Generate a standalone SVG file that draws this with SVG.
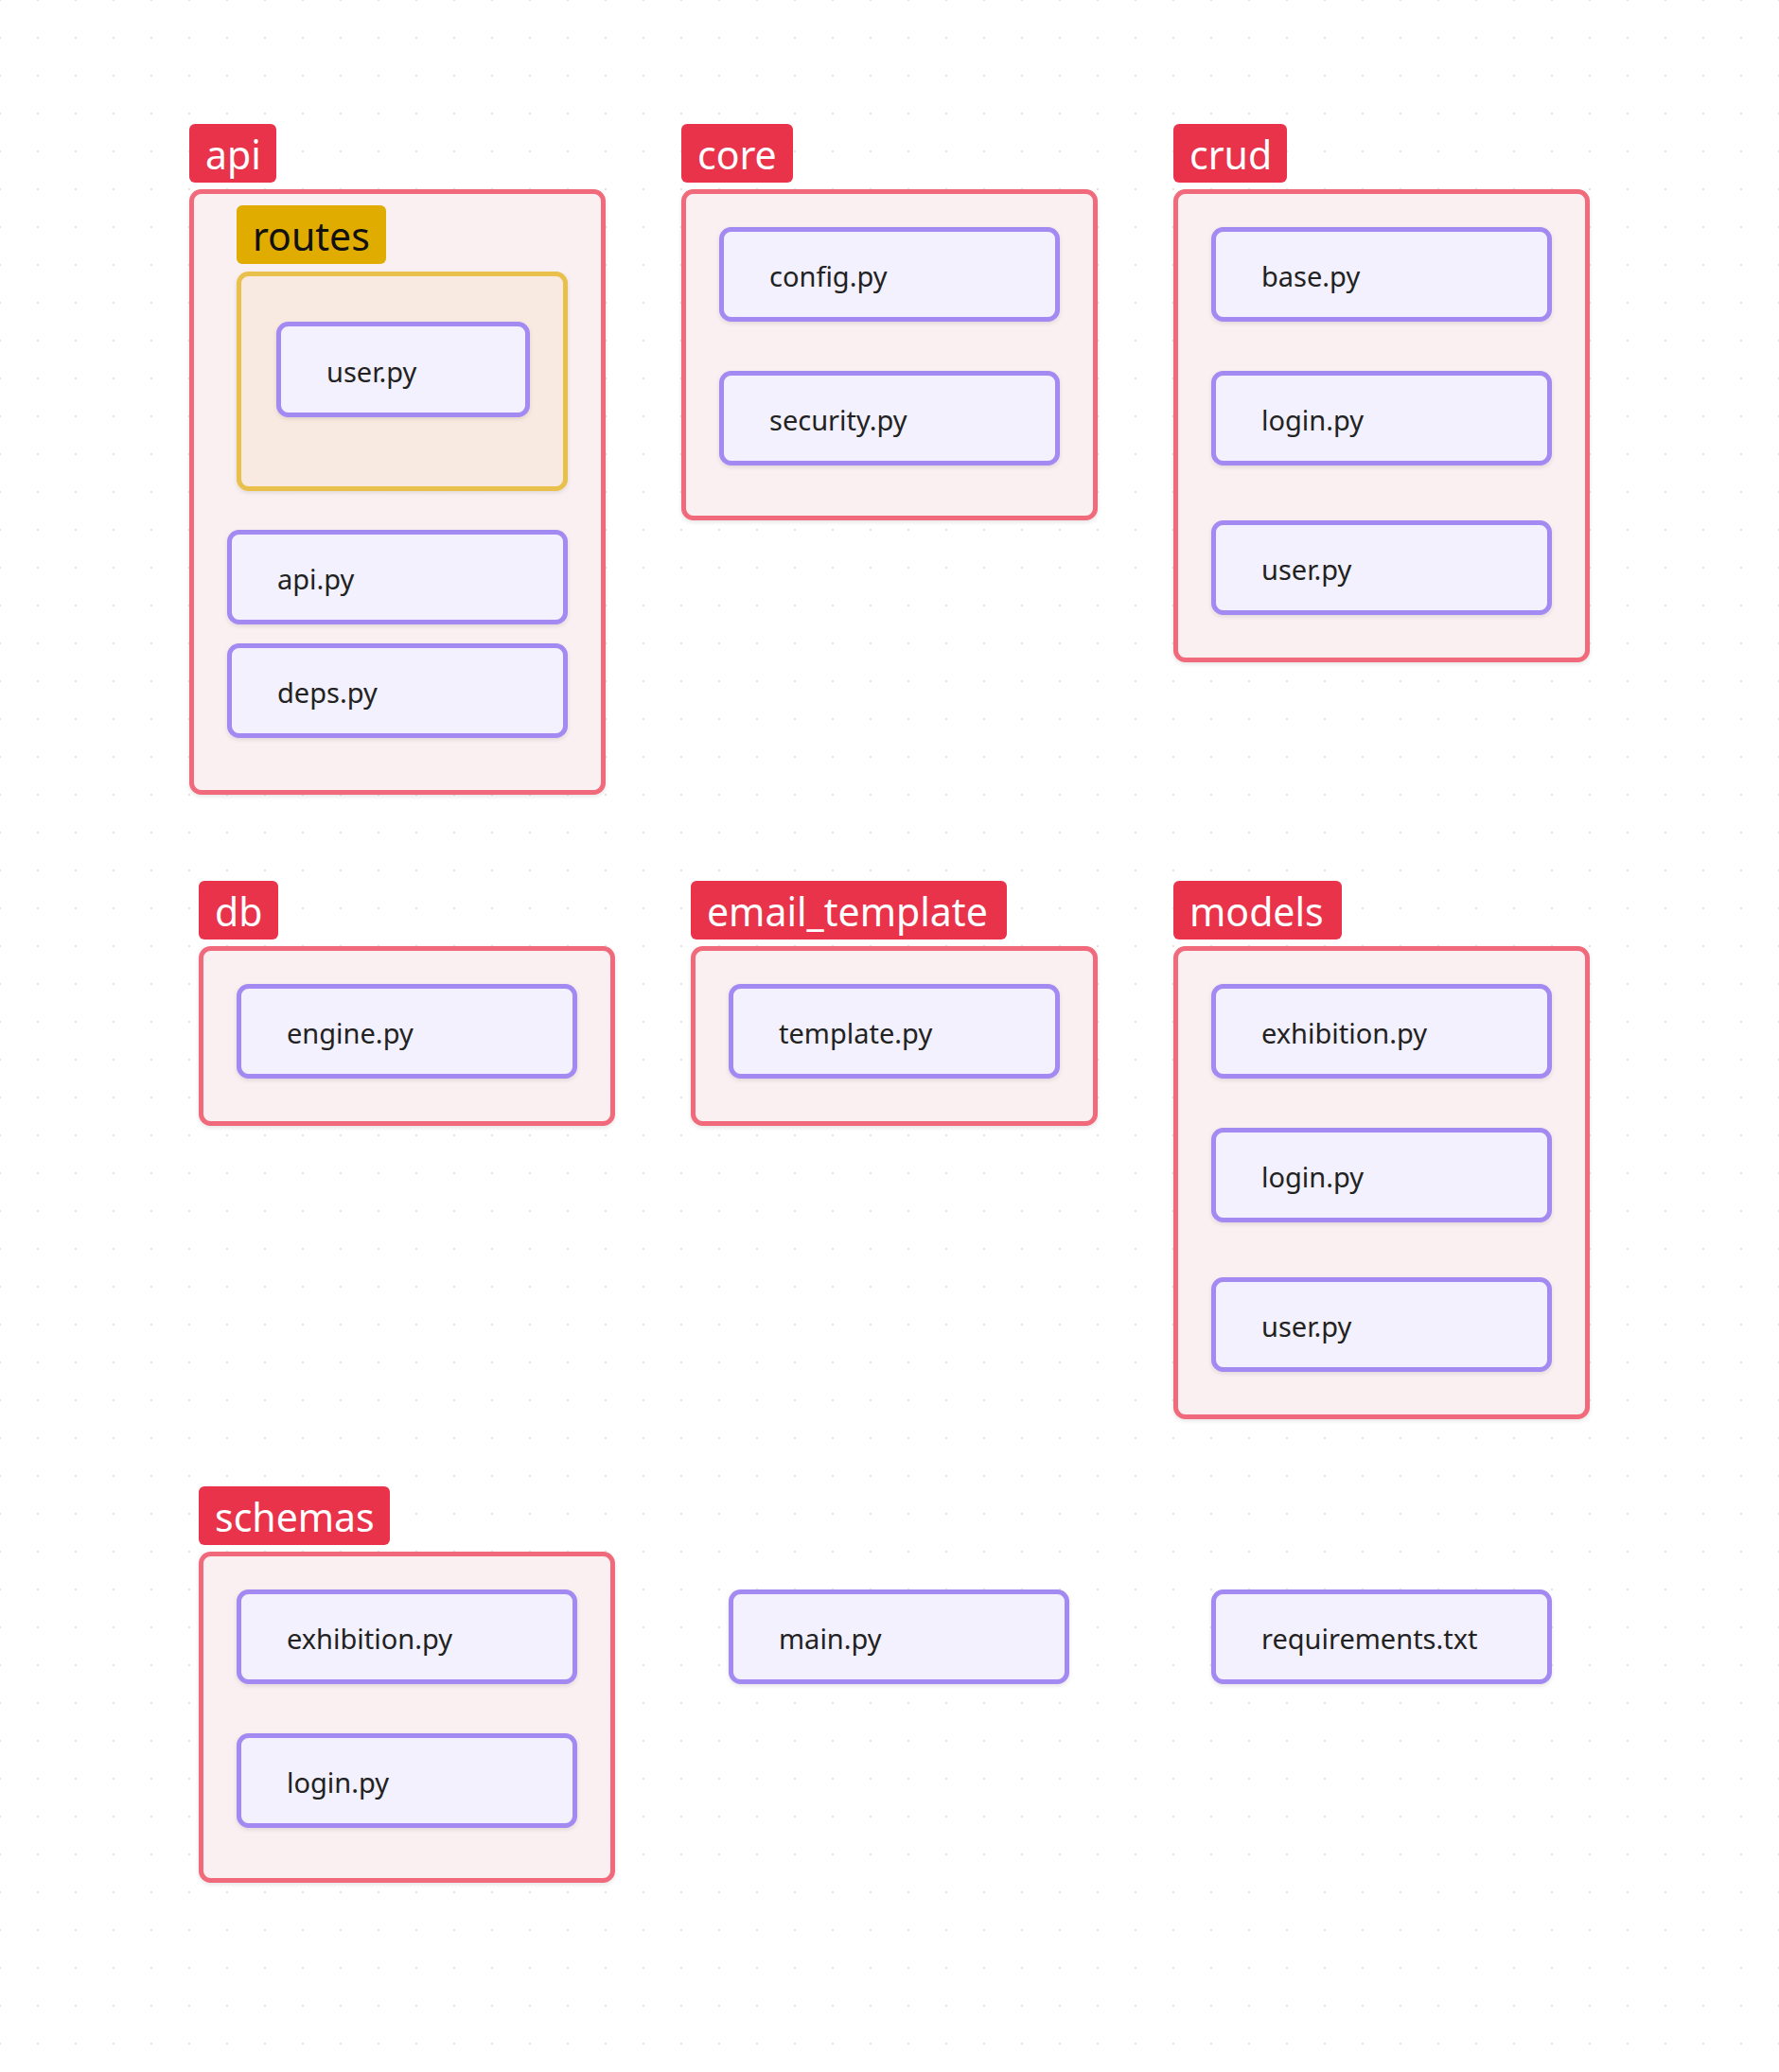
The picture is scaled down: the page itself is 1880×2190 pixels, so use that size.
<svg xmlns="http://www.w3.org/2000/svg" width="1880" height="2190" viewBox="0 0 1880 2190">
  <defs>
    <pattern id="dots" x="-20" y="-20" width="40" height="40" patternUnits="userSpaceOnUse">
      <circle cx="20" cy="20" r="1.1" fill="#dcdcdc"/>
    </pattern>
    <filter id="sh" x="-10%" y="-10%" width="120%" height="130%">
      <feDropShadow dx="0" dy="2" stdDeviation="2" flood-color="#000" flood-opacity="0.10"/>
    </filter>
    <style>
      .lab { fill: #E9334B; }
      .labt { font-family: "Noto Sans", "Open Sans", sans-serif; font-size: 41px; fill: #ffffff; }
      .cont { fill: #FBEFF1; fill-opacity: 0.9; stroke: #F06B7C; stroke-width: 5; filter: url(#sh); }
      .sub { fill: #FAEAE0; fill-opacity: 0.9; stroke: #E8C04B; stroke-width: 5; filter: url(#sh); }
      .sublab { fill: #E0AC00; }
      .sublabt { font-family: "Noto Sans", "Open Sans", sans-serif; font-size: 41px; fill: #111111; }
      .node { fill: #F3F1FD; stroke: #A389F2; stroke-width: 5; filter: url(#sh); }
      .nt { font-family: "Noto Sans", "Open Sans", sans-serif; font-size: 29px; fill: #222222; }
    </style>
  </defs>
  <rect x="0" y="0" width="1880" height="2190" fill="#ffffff"/>
  <rect x="0" y="0" width="1880" height="2190" fill="url(#dots)"/>

  <g id="connectors"/>

  <!-- api -->
  <g id="api">
    <rect class="cont" x="202.5" y="202.5" width="435" height="635" rx="10"/>
    <rect class="lab" x="200" y="131" width="92" height="62" rx="6"/>
    <text class="labt" x="217" y="179">api</text>
  </g>
  <g id="routes">
    <rect class="sub" x="252.5" y="289.5" width="345" height="227" rx="10"/>
    <rect class="sublab" x="250" y="217" width="158" height="62" rx="6"/>
    <text class="sublabt" x="267" y="265">routes</text>
  </g>
  <g id="api-routes-user">
    <rect class="node" x="294.5" y="342.5" width="263" height="96" rx="10"/>
    <text class="nt" x="345" y="404">user.py</text>
  </g>
  <g id="api-api">
    <rect class="node" x="242.5" y="562.5" width="355" height="95" rx="10"/>
    <text class="nt" x="293" y="623">api.py</text>
  </g>
  <g id="api-deps">
    <rect class="node" x="242.5" y="682.5" width="355" height="95" rx="10"/>
    <text class="nt" x="293" y="743">deps.py</text>
  </g>

  <!-- core -->
  <g id="core">
    <rect class="cont" x="722.5" y="202.5" width="435" height="345" rx="10"/>
    <rect class="lab" x="720" y="131" width="118" height="62" rx="6"/>
    <text class="labt" x="737" y="179">core</text>
  </g>
  <g id="core-config">
    <rect class="node" x="762.5" y="242.5" width="355" height="95" rx="10"/>
    <text class="nt" x="813" y="303">config.py</text>
  </g>
  <g id="core-security">
    <rect class="node" x="762.5" y="394.5" width="355" height="95" rx="10"/>
    <text class="nt" x="813" y="455">security.py</text>
  </g>

  <!-- crud -->
  <g id="crud">
    <rect class="cont" x="1242.5" y="202.5" width="435" height="495" rx="10"/>
    <rect class="lab" x="1240" y="131" width="120" height="62" rx="6"/>
    <text class="labt" x="1257" y="179">crud</text>
  </g>
  <g id="crud-base">
    <rect class="node" x="1282.5" y="242.5" width="355" height="95" rx="10"/>
    <text class="nt" x="1333" y="303">base.py</text>
  </g>
  <g id="crud-login">
    <rect class="node" x="1282.5" y="394.5" width="355" height="95" rx="10"/>
    <text class="nt" x="1333" y="455">login.py</text>
  </g>
  <g id="crud-user">
    <rect class="node" x="1282.5" y="552.5" width="355" height="95" rx="10"/>
    <text class="nt" x="1333" y="613">user.py</text>
  </g>

  <!-- db -->
  <g id="db">
    <rect class="cont" x="212.5" y="1002.5" width="435" height="185" rx="10"/>
    <rect class="lab" x="210" y="931" width="84" height="62" rx="6"/>
    <text class="labt" x="227" y="979">db</text>
  </g>
  <g id="db-engine">
    <rect class="node" x="252.5" y="1042.5" width="355" height="95" rx="10"/>
    <text class="nt" x="303" y="1103">engine.py</text>
  </g>

  <!-- email_template -->
  <g id="email_template">
    <rect class="cont" x="732.5" y="1002.5" width="425" height="185" rx="10"/>
    <rect class="lab" x="730" y="931" width="334" height="62" rx="6"/>
    <text class="labt" x="747" y="979">email_template</text>
  </g>
  <g id="email-template">
    <rect class="node" x="772.5" y="1042.5" width="345" height="95" rx="10"/>
    <text class="nt" x="823" y="1103">template.py</text>
  </g>

  <!-- models -->
  <g id="models">
    <rect class="cont" x="1242.5" y="1002.5" width="435" height="495" rx="10"/>
    <rect class="lab" x="1240" y="931" width="178" height="62" rx="6"/>
    <text class="labt" x="1257" y="979">models</text>
  </g>
  <g id="models-exhibition">
    <rect class="node" x="1282.5" y="1042.5" width="355" height="95" rx="10"/>
    <text class="nt" x="1333" y="1103">exhibition.py</text>
  </g>
  <g id="models-login">
    <rect class="node" x="1282.5" y="1194.5" width="355" height="95" rx="10"/>
    <text class="nt" x="1333" y="1255">login.py</text>
  </g>
  <g id="models-user">
    <rect class="node" x="1282.5" y="1352.5" width="355" height="95" rx="10"/>
    <text class="nt" x="1333" y="1413">user.py</text>
  </g>

  <!-- schemas -->
  <g id="schemas">
    <rect class="cont" x="212.5" y="1642.5" width="435" height="345" rx="10"/>
    <rect class="lab" x="210" y="1571" width="202" height="62" rx="6"/>
    <text class="labt" x="227" y="1619">schemas</text>
  </g>
  <g id="schemas-exhibition">
    <rect class="node" x="252.5" y="1682.5" width="355" height="95" rx="10"/>
    <text class="nt" x="303" y="1743">exhibition.py</text>
  </g>
  <g id="schemas-login">
    <rect class="node" x="252.5" y="1834.5" width="355" height="95" rx="10"/>
    <text class="nt" x="303" y="1895">login.py</text>
  </g>

  <!-- top-level files -->
  <g id="main">
    <rect class="node" x="772.5" y="1682.5" width="355" height="95" rx="10"/>
    <text class="nt" x="823" y="1743">main.py</text>
  </g>
  <g id="requirements">
    <rect class="node" x="1282.5" y="1682.5" width="355" height="95" rx="10"/>
    <text class="nt" x="1333" y="1743">requirements.txt</text>
  </g>
</svg>
